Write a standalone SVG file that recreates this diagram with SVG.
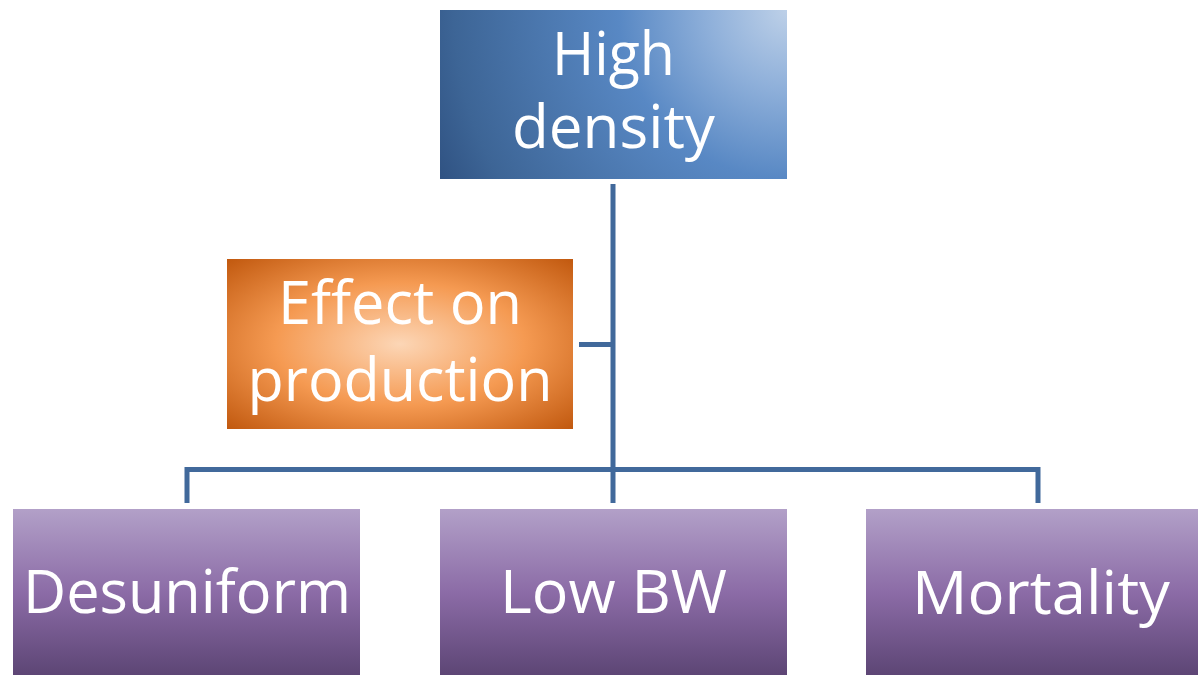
<svg xmlns="http://www.w3.org/2000/svg" width="1198" height="675" viewBox="0 0 1198 675">
<defs>
<radialGradient id="gBlue" gradientUnits="userSpaceOnUse" cx="787" cy="10" r="392">
<stop offset="0" stop-color="#bdd0e8"/>
<stop offset="0.2" stop-color="#8fb0da"/>
<stop offset="0.43" stop-color="#5888c4"/>
<stop offset="0.85" stop-color="#3d6596"/>
<stop offset="1" stop-color="#2e5080"/>
</radialGradient>
<radialGradient id="gOrange" cx="0.5" cy="0.5" r="0.72">
<stop offset="0" stop-color="#fcd6b6"/>
<stop offset="0.5" stop-color="#f59a52"/>
<stop offset="1" stop-color="#bf560c"/>
</radialGradient>
<linearGradient id="gPurple" x1="0" y1="0" x2="0" y2="1">
<stop offset="0" stop-color="#b2a0c8"/>
<stop offset="0.5" stop-color="#8b6ba6"/>
<stop offset="1" stop-color="#5b4473"/>
</linearGradient>
</defs>
<style>
.lbl{font-family:"Open Sans","Noto Sans","DejaVu Sans",sans-serif;font-size:60px;fill:#ffffff;text-anchor:middle}
.conn{stroke:#41699b;stroke-width:5;fill:none;stroke-linecap:butt;stroke-linejoin:miter}
</style>
<rect width="1198" height="675" fill="#ffffff"/>
<g id="connectors">
<path class="conn" d="M613 184 V469.5"/>
<path class="conn" d="M579 344.5 H613"/>
<path class="conn" d="M187 503 V469.5 H1038 V503"/>
<path class="conn" d="M613 469.5 V503"/>
</g>
<g id="node-high-density">
<rect x="440" y="10" width="347" height="169" fill="url(#gBlue)"/>
<text class="lbl"><tspan x="613.5" y="75" textLength="123" lengthAdjust="spacingAndGlyphs">High</tspan><tspan x="613.5" y="148" textLength="203" lengthAdjust="spacingAndGlyphs">density</tspan></text>
</g>
<g id="node-effect">
<rect x="227" y="259" width="346" height="170" fill="url(#gOrange)"/>
<text class="lbl"><tspan x="400" y="324" textLength="244" lengthAdjust="spacingAndGlyphs">Effect on</tspan><tspan x="400" y="401" textLength="305" lengthAdjust="spacingAndGlyphs">production</tspan></text>
</g>
<g id="node-desuniform">
<rect x="13" y="509" width="347" height="169" fill="url(#gPurple)"/>
<text class="lbl" x="187" y="613" textLength="328" lengthAdjust="spacingAndGlyphs">Desuniform</text>
</g>
<g id="node-lowbw">
<rect x="440" y="509" width="347" height="169" fill="url(#gPurple)"/>
<text class="lbl" x="613.5" y="613" textLength="227" lengthAdjust="spacingAndGlyphs">Low BW</text>
</g>
<g id="node-mortality">
<rect x="866" y="509" width="347" height="169" fill="url(#gPurple)"/>
<text class="lbl" x="1041" y="614" textLength="258" lengthAdjust="spacingAndGlyphs">Mortality</text>
</g>
</svg>
